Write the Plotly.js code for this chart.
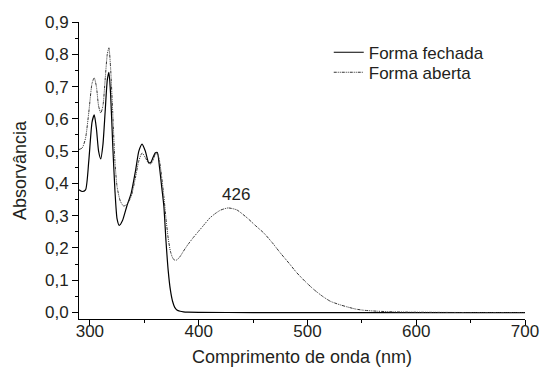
<!DOCTYPE html>
<html>
<head>
<meta charset="utf-8">
<script src="https://cdn.plot.ly/plotly-3.0.1.min.js"></script>
<style>html,body{margin:0;padding:0;background:#fff;}#chart{width:544px;height:367px;}</style>
</head>
<body>
<div id="chart"></div>
<script>
// Forma fechada (solid)
const wlFechada = [290,293,296,299,302,304,306,308,310,312,314,316,317.5,319,321,323,325,327,330,334,338,342,345,348,351,354,356,358,360,362,364,366,368,370,372,374,376,378,380,383,386,390,400,450,500,550,600,650,700];
const absFechada = [0.38,0.375,0.38,0.47,0.59,0.612,0.57,0.50,0.476,0.52,0.62,0.72,0.744,0.68,0.52,0.38,0.29,0.27,0.285,0.33,0.37,0.44,0.50,0.522,0.50,0.465,0.465,0.48,0.494,0.496,0.45,0.39,0.33,0.22,0.13,0.07,0.035,0.016,0.008,0.004,0.002,0.001,0.0005,0,0,0,0,0,0];
// Forma aberta (dotted)
const wlAberta = [290,293,296,299,302,304,306,308,310,312,314,316,317.5,319,321,323,325,328,331,334,338,342,345,348,351,354,356,358,360,362,364,366,368,370,372,374,376,378,380,383,386,390,395,400,405,410,415,420,427,435,445,452,460,468,475,483,490,498,506,514,521,529,536,544,552,565,580,600,650,700];
const absAberta = [0.505,0.51,0.54,0.62,0.71,0.727,0.70,0.64,0.618,0.64,0.72,0.80,0.82,0.76,0.62,0.47,0.39,0.345,0.33,0.335,0.36,0.42,0.47,0.494,0.48,0.462,0.461,0.47,0.49,0.492,0.47,0.42,0.36,0.29,0.23,0.19,0.17,0.162,0.163,0.174,0.19,0.21,0.232,0.252,0.272,0.292,0.306,0.317,0.324,0.318,0.292,0.27,0.246,0.215,0.185,0.153,0.124,0.096,0.071,0.05,0.035,0.025,0.018,0.011,0.007,0.004,0.002,0.001,0,0];
const seriesNames = ["Forma fechada","Forma aberta"];
const peakLabel = "426";
const xTitle = "Comprimento de onda (nm)";
const yTitle = "Absorvância";

const font = "Liberation Sans, Arial, sans-serif";
const txt = "#231f20";

const traces = [
  {x: wlFechada, y: absFechada, name: seriesNames[0], type: "scatter", mode: "lines", legend: "legend",
   line: {color: "#000000", width: 1.2, shape: "spline", smoothing: 0.6}},
  {x: wlAberta, y: absAberta, name: seriesNames[1], type: "scatter", mode: "lines", legend: "legend2",
   line: {color: "#333333", width: 1, dash: "3px,1px,1px,1px,1px,1px", shape: "spline", smoothing: 0.6}}
];

const legendCommon = {xanchor: "left", yanchor: "middle", bgcolor: "rgba(0,0,0,0)",
  font: {family: font, size: 17, color: txt}};

const layout = {
  width: 544, height: 367,
  margin: {l: 79, r: 19, t: 22, b: 48},
  paper_bgcolor: "#ffffff", plot_bgcolor: "#ffffff",
  font: {family: font, size: 17, color: txt},
  separators: ",.",
  showlegend: true,
  legend: Object.assign({x: 0.56, y: (319 - 52.7) / 297}, legendCommon),
  legend2: Object.assign({x: 0.56, y: (319 - 72.7) / 297}, legendCommon),
  xaxis: {range: [290, 700], tick0: 300, dtick: 100, showgrid: false, zeroline: false,
          showline: true, linecolor: "#000", linewidth: 1, ticks: "outside", ticklen: 6, tickcolor: "#000",
          ticklabelstandoff: -9,
          minor: {ticks: "outside", ticklen: 3, dtick: 50, tick0: 300, tickcolor: "#000", showgrid: false},
          title: {text: xTitle, font: {family: font, size: 18, color: txt}, standoff: 9}},
  yaxis: {range: [-0.02, 0.9], tick0: 0, dtick: 0.1, tickformat: ".1f", showgrid: false, zeroline: false,
          showline: true, linecolor: "#000", linewidth: 1, ticks: "outside", ticklen: 6, tickcolor: "#000",
          minor: {ticks: "outside", ticklen: 3, dtick: 0.05, tick0: 0, tickcolor: "#000", showgrid: false},
          title: {text: yTitle, font: {family: font, size: 18, color: txt}, standoff: 13}},
  annotations: [
    {x: 434.7, y: 0.365, xref: "x", yref: "y", text: peakLabel, showarrow: false,
     font: {family: font, size: 17, color: txt}}
  ]
};

Plotly.newPlot("chart", traces, layout, {staticPlot: true, displayModeBar: false});
</script>
</body>
</html>
